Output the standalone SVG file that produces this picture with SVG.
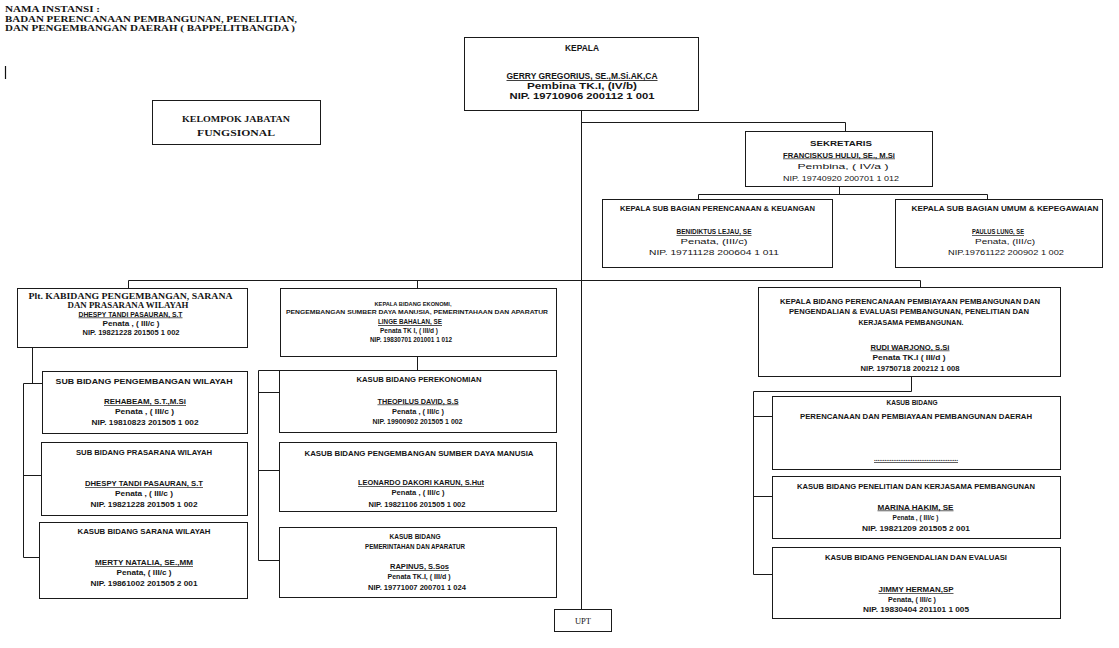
<svg xmlns="http://www.w3.org/2000/svg" width="1119" height="648" viewBox="0 0 1119 648">
<style>
text{font-family:"Liberation Sans",Arial,sans-serif;text-anchor:middle;fill:#151515}
.a{font-weight:bold;font-size:6.8px}
.a6{font-weight:bold;font-size:6.5px}
.a5{font-weight:bold;font-size:5.8px}
.k{font-weight:bold;font-size:8.2px}
.k7{font-weight:bold;font-size:7.4px}
.rg{font-size:8px}
.sf{font-family:"Liberation Serif","Times New Roman",serif;font-weight:bold;font-size:8.8px}
.u{text-decoration:underline}
.box{fill:#fff;stroke:#1a1a1a;stroke-width:1}
.ln{fill:none;stroke:#1a1a1a;stroke-width:1}
</style>
<rect width="1119" height="648" fill="#fff"/>
<g id="header">
<text class="sf" x="5" y="11.5" style="text-anchor:start" textLength="95" lengthAdjust="spacingAndGlyphs">NAMA INSTANSI :</text>
<text class="sf" x="5" y="21.5" style="text-anchor:start" textLength="292" lengthAdjust="spacingAndGlyphs">BADAN PERENCANAAN PEMBANGUNAN, PENELITIAN,</text>
<text class="sf" x="5" y="31" style="text-anchor:start" textLength="290" lengthAdjust="spacingAndGlyphs">DAN PENGEMBANGAN DAERAH ( BAPPELITBANGDA )</text>
<line x1="5.5" y1="66" x2="5.5" y2="79" stroke="#111" stroke-width="1.2"/>
</g>
<g id="connectors">
<path class="ln" d="M581.5,111 V609"/>
<path class="ln" d="M581.5,122.5 H845.5 V131"/>
<path class="ln" d="M839.5,187 V194.5 M698.5,199 V194.5 H987.5 V199"/>
<path class="ln" d="M128.5,288 V280.5 H920.5 V287 M417.5,280.5 V288"/>
<path class="ln" d="M32.5,348 V383.5 M42,383.5 H23.5 V557.5 H39 M23.5,475.5 H41"/>
<path class="ln" d="M417.5,357 V370 M279,370.5 H258.5 V560.5 H279 M258.5,392.5 H279 M258.5,470.5 H279"/>
<path class="ln" d="M911.5,377 V391.5 H753.5 V574.5 H772 M753.5,416.5 H772 M753.5,496.5 H772"/>
</g>
<g id="kepala">
<rect class="box" x="464.5" y="37.5" width="234" height="73"/>
<text class="k" x="582" y="51" textLength="34" lengthAdjust="spacingAndGlyphs">KEPALA</text>
<text class="k u" x="582" y="79" textLength="151" lengthAdjust="spacingAndGlyphs">GERRY GREGORIUS, SE.,M.Si.AK,CA</text>
<text class="k" x="582" y="89" textLength="110" lengthAdjust="spacingAndGlyphs">Pembina TK.I, (IV/b)</text>
<text class="k" x="582" y="99" textLength="145" lengthAdjust="spacingAndGlyphs">NIP. 19710906 200112  1 001</text>
</g>
<g id="kelompok">
<rect class="box" x="152.5" y="100.5" width="168" height="44"/>
<text class="sf" x="236" y="122" textLength="108" lengthAdjust="spacingAndGlyphs">KELOMPOK JABATAN</text>
<text class="sf" x="236" y="135.5" textLength="78" lengthAdjust="spacingAndGlyphs">FUNGSIONAL</text>
</g>
<g id="sekretaris">
<rect class="box" x="745.5" y="131.5" width="187" height="55"/>
<text class="k7" x="841" y="146" textLength="62" lengthAdjust="spacingAndGlyphs">SEKRETARIS</text>
<text class="a u" x="839" y="157.5" textLength="112" lengthAdjust="spacingAndGlyphs">FRANCISKUS HULUI, SE., M.Si</text>
<text class="rg" x="843" y="169" textLength="91" lengthAdjust="spacingAndGlyphs">Pembina, ( IV/a )</text>
<text class="rg" x="841" y="181" textLength="116" lengthAdjust="spacingAndGlyphs">NIP. 19740920 200701 1 012</text>
</g>
<g id="subbag-perencanaan">
<rect class="box" x="602.5" y="199.5" width="230" height="68"/>
<text class="a" x="717.5" y="211" textLength="195" lengthAdjust="spacingAndGlyphs">KEPALA SUB BAGIAN  PERENCANAAN &amp; KEUANGAN</text>
<text class="a u" x="714" y="234" textLength="75" lengthAdjust="spacingAndGlyphs">BENIDIKTUS LEJAU, SE</text>
<text class="rg" x="714" y="244" textLength="67" lengthAdjust="spacingAndGlyphs">Penata,  (III/c)</text>
<text class="rg" x="714" y="255" textLength="130" lengthAdjust="spacingAndGlyphs">NIP. 19711128 200604 1 011</text>
</g>
<g id="subbag-umum">
<rect class="box" x="895.5" y="199.5" width="207" height="68"/>
<text class="a" x="1005" y="211" textLength="187" lengthAdjust="spacingAndGlyphs">KEPALA SUB BAGIAN UMUM &amp; KEPEGAWAIAN</text>
<text class="a u" x="998" y="234" textLength="52" lengthAdjust="spacingAndGlyphs">PAULUS LUNG, SE</text>
<text class="rg" x="1005" y="244" textLength="60" lengthAdjust="spacingAndGlyphs">Penata, (III/c)</text>
<text class="rg" x="1006" y="255" textLength="116" lengthAdjust="spacingAndGlyphs">NIP.19761122 200902 1 002</text>
</g>
<g id="kabid-wilayah">
<rect class="box" x="17.5" y="288.5" width="230" height="59"/>
<text class="sf" x="130.5" y="299" textLength="204" lengthAdjust="spacingAndGlyphs">Plt. KABIDANG PENGEMBANGAN, SARANA</text>
<text class="sf" x="128" y="308" textLength="121" lengthAdjust="spacingAndGlyphs">DAN PRASARANA WILAYAH</text>
<text class="a u" x="130.5" y="316.5" textLength="104" lengthAdjust="spacingAndGlyphs">DHESPY TANDI PASAURAN, S.T</text>
<text class="a" x="131" y="325.5" textLength="57" lengthAdjust="spacingAndGlyphs">Penata , ( III/c )</text>
<text class="a" x="131" y="334.5" textLength="97" lengthAdjust="spacingAndGlyphs">NIP. 19821228 201505 1 002</text>
</g>
<g id="kabid-ekonomi">
<rect class="box" x="280.5" y="288.5" width="276" height="68"/>
<text class="a5" x="413" y="305.5" textLength="77" lengthAdjust="spacingAndGlyphs">KEPALA BIDANG EKONOMI,</text>
<text class="a5" x="417" y="314" textLength="262" lengthAdjust="spacingAndGlyphs">PENGEMBANGAN SUMBER DAYA MANUSIA,  PEMERINTAHAAN DAN APARATUR</text>
<text class="k7 u" x="410" y="324" textLength="64" lengthAdjust="spacingAndGlyphs">LINGE BAHALAN, SE</text>
<text class="a" x="409" y="333" textLength="58" lengthAdjust="spacingAndGlyphs">Penata TK I, ( III/d )</text>
<text class="a" x="411" y="341.5" textLength="82" lengthAdjust="spacingAndGlyphs">NIP. 19830701 201001 1 012</text>
</g>
<g id="kabid-perencanaan">
<rect class="box" x="758.5" y="287.5" width="302" height="89"/>
<text class="a" x="910" y="303.5" textLength="260" lengthAdjust="spacingAndGlyphs">KEPALA BIDANG PERENCANAAN PEMBIAYAAN PEMBANGUNAN DAN</text>
<text class="a" x="909" y="314" textLength="240" lengthAdjust="spacingAndGlyphs">PENGENDALIAN &amp; EVALUASI PEMBANGUNAN, PENELITIAN DAN</text>
<text class="a" x="911" y="324.5" textLength="105" lengthAdjust="spacingAndGlyphs">KERJASAMA PEMBANGUNAN.</text>
<text class="a u" x="910" y="349.5" textLength="79" lengthAdjust="spacingAndGlyphs">RUDI WARJONO, S.Si</text>
<text class="a" x="909" y="360" textLength="73" lengthAdjust="spacingAndGlyphs">Penata TK.I ( III/d )</text>
<text class="a" x="910" y="370.5" textLength="99" lengthAdjust="spacingAndGlyphs">NIP. 19750718 200212 1 008</text>
</g>
<g id="sub-pengembangan-wilayah">
<rect class="box" x="42.5" y="371.5" width="205" height="62"/>
<text class="a" x="144" y="383.5" textLength="177" lengthAdjust="spacingAndGlyphs">SUB BIDANG  PENGEMBANGAN WILAYAH</text>
<text class="a u" x="145" y="404" textLength="82" lengthAdjust="spacingAndGlyphs">REHABEAM, S.T.,M.Si</text>
<text class="a" x="144.5" y="413.5" textLength="59" lengthAdjust="spacingAndGlyphs">Penata , ( III/c )</text>
<text class="a" x="145" y="424.5" textLength="107" lengthAdjust="spacingAndGlyphs">NIP. 19810823 201505 1 002</text>
</g>
<g id="sub-prasarana-wilayah">
<rect class="box" x="41.5" y="442.5" width="206" height="73"/>
<text class="a" x="144" y="455" textLength="136" lengthAdjust="spacingAndGlyphs">SUB BIDANG PRASARANA WILAYAH</text>
<text class="a u" x="144" y="486" textLength="118" lengthAdjust="spacingAndGlyphs">DHESPY TANDI PASAURAN, S.T</text>
<text class="a" x="144" y="496" textLength="58" lengthAdjust="spacingAndGlyphs">Penata , ( III/c )</text>
<text class="a" x="144" y="506.5" textLength="107" lengthAdjust="spacingAndGlyphs">NIP. 19821228 201505 1 002</text>
</g>
<g id="sub-sarana-wilayah">
<rect class="box" x="39.5" y="522.5" width="208" height="76"/>
<text class="a" x="144" y="534" textLength="133" lengthAdjust="spacingAndGlyphs">KASUB BIDANG SARANA WILAYAH</text>
<text class="a u" x="144" y="565" textLength="98" lengthAdjust="spacingAndGlyphs">MERTY NATALIA, SE.,MM</text>
<text class="a" x="144" y="575" textLength="55" lengthAdjust="spacingAndGlyphs">Penata, ( III/c )</text>
<text class="a" x="144" y="586" textLength="107" lengthAdjust="spacingAndGlyphs">NIP. 19861002 201505 2 001</text>
</g>
<g id="sub-perekonomian">
<rect class="box" x="279.5" y="370.5" width="277" height="62"/>
<text class="a6" x="419" y="382" textLength="125" lengthAdjust="spacingAndGlyphs">KASUB BIDANG PEREKONOMIAN</text>
<text class="a6 u" x="418" y="403.5" textLength="81" lengthAdjust="spacingAndGlyphs">THEOPILUS DAVID, S.S</text>
<text class="a6" x="418" y="413.5" textLength="52" lengthAdjust="spacingAndGlyphs">Penata , ( III/c )</text>
<text class="a6" x="417.5" y="423.5" textLength="90" lengthAdjust="spacingAndGlyphs">NIP. 19900902 201505 1 002</text>
</g>
<g id="sub-sdm">
<rect class="box" x="279.5" y="442.5" width="277" height="69"/>
<text class="a" x="419" y="456" textLength="229" lengthAdjust="spacingAndGlyphs">KASUB BIDANG PENGEMBANGAN SUMBER DAYA MANUSIA</text>
<text class="a u" x="421" y="485" textLength="126" lengthAdjust="spacingAndGlyphs">LEONARDO DAKORI KARUN, S.Hut</text>
<text class="a" x="418" y="494.5" textLength="53" lengthAdjust="spacingAndGlyphs">Penata , ( III/c )</text>
<text class="a" x="417" y="507" textLength="97" lengthAdjust="spacingAndGlyphs">NIP. 19821106 201505 1 002</text>
</g>
<g id="sub-pemerintahan">
<rect class="box" x="279.5" y="527.5" width="277" height="70"/>
<text class="a" x="415" y="538.5" textLength="51" lengthAdjust="spacingAndGlyphs">KASUB BIDANG</text>
<text class="a" x="415" y="548.5" textLength="100" lengthAdjust="spacingAndGlyphs">PEMERINTAHAN DAN APARATUR</text>
<text class="a u" x="419.5" y="569" textLength="59" lengthAdjust="spacingAndGlyphs">RAPINUS, S.Sos</text>
<text class="a" x="419" y="579" textLength="63" lengthAdjust="spacingAndGlyphs">Penata TK.I, ( III/d )</text>
<text class="a" x="417" y="590" textLength="98" lengthAdjust="spacingAndGlyphs">NIP. 19771007 200701 1 024</text>
</g>
<g id="sub-perencanaan-pembiayaan">
<rect class="box" x="772.5" y="396.5" width="288" height="73"/>
<text class="a" x="912" y="404.5" textLength="51" lengthAdjust="spacingAndGlyphs">KASUB BIDANG</text>
<text class="a" x="916" y="418.5" textLength="232" lengthAdjust="spacingAndGlyphs">PERENCANAAN DAN PEMBIAYAAN PEMBANGUNAN DAERAH</text>
<text class="a u" x="916" y="461" textLength="84" lengthAdjust="spacingAndGlyphs">................................................</text>
</g>
<g id="sub-penelitian">
<rect class="box" x="772.5" y="476.5" width="288" height="62"/>
<text class="a" x="916" y="488.5" textLength="238" lengthAdjust="spacingAndGlyphs">KASUB BIDANG PENELITIAN DAN KERJASAMA PEMBANGUNAN</text>
<text class="a u" x="915.5" y="509.5" textLength="76" lengthAdjust="spacingAndGlyphs">MARINA HAKIM, SE</text>
<text class="a" x="915.5" y="520" textLength="46" lengthAdjust="spacingAndGlyphs">Penata , ( III/c )</text>
<text class="a" x="916" y="530.5" textLength="108" lengthAdjust="spacingAndGlyphs">NIP.  19821209 201505 2 001</text>
</g>
<g id="sub-pengendalian">
<rect class="box" x="772.5" y="547.5" width="288" height="71"/>
<text class="a" x="916" y="560" textLength="182" lengthAdjust="spacingAndGlyphs">KASUB BIDANG PENGENDALIAN DAN EVALUASI</text>
<text class="a u" x="916" y="592" textLength="75" lengthAdjust="spacingAndGlyphs">JIMMY HERMAN,SP</text>
<text class="a" x="912" y="602" textLength="48" lengthAdjust="spacingAndGlyphs">Penata, ( III/c )</text>
<text class="a" x="916" y="612" textLength="106" lengthAdjust="spacingAndGlyphs">NIP. 19830404 201101 1 005</text>
</g>
<g id="upt">
<rect class="box" x="554.5" y="609.5" width="57" height="22"/>
<text x="583" y="624" style="font-family:'Liberation Serif','Times New Roman',serif;font-size:8.5px">UPT</text>
</g>
</svg>
